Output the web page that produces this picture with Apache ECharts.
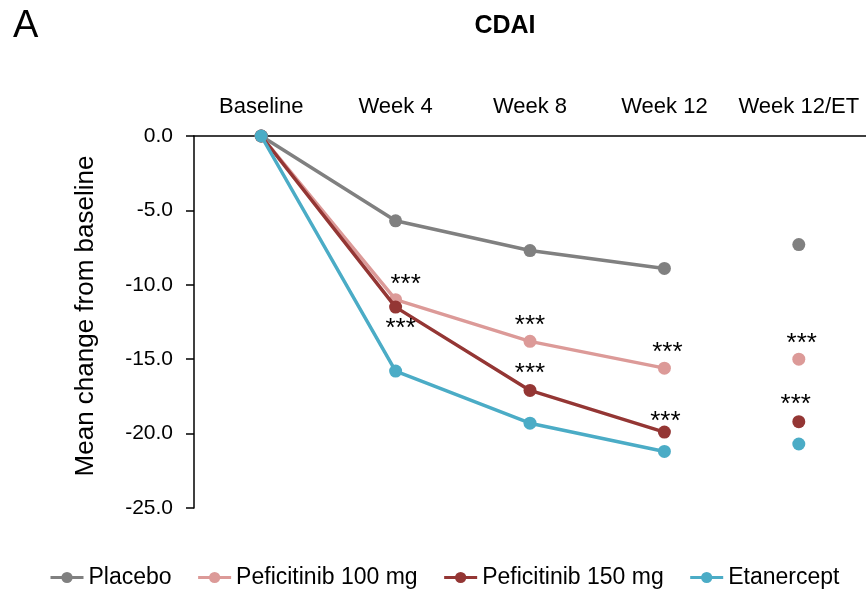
<!DOCTYPE html>
<html>
<head>
<meta charset="utf-8">
<script src="https://cdn.jsdelivr.net/npm/echarts@6/dist/echarts.min.js"></script>
<style>
html,body{margin:0;padding:0;background:#fff;}
#chart{width:866px;height:591px;}
</style>
</head>
<body>
<div id="chart"></div>
<script>
// ---- data ----
const categories = ['Baseline', 'Week 4', 'Week 8', 'Week 12', 'Week 12/ET'];
const seriesNames = ['Placebo', 'Peficitinib 100 mg', 'Peficitinib 150 mg', 'Etanercept'];
const placebo = [0, -5.7, -7.7, -8.9];
const pef100 = [0, -11.0, -13.8, -15.6];
const pef150 = [0, -11.5, -17.1, -19.9];
const etanercept = [0, -15.8, -19.3, -21.2];
const placeboET = -7.3;
const pef100ET = -15.0;
const pef150ET = -19.2;
const etanerceptET = -20.7;
// significance markers (***) per visit, last entry = Week 12/ET
const placeboSig = [false, false, false, false, false];
const pef100Sig = [false, true, true, true, true];
const pef150Sig = [false, true, true, true, true];
const etanerceptSig = [false, false, false, false, false];
const yMin = -25, yMax = 0, yStep = 5;

// ---- style / layout ----
const colors = ['#808080', '#dc9a98', '#943634', '#4bacc6'];
const FONT = 'Liberation Sans, Arial, sans-serif';
const SIG_SIZE = 26;
// label offsets for the *** markers [dx, dy] per series per visit
const sigOffsets = {
  1: [[0,0],[10,-15],[0,-16],[3,-15],[3,-15]],
  2: [[0,0],[5,22],[0,-17],[1,-10],[-3,-17]]
};

const lineData = [placebo, pef100, pef150, etanercept];
const etData = [placeboET, pef100ET, pef150ET, etanerceptET];
const sigData = [placeboSig, pef100Sig, pef150Sig, etanerceptSig];

function buildData(vals, sig, si, startIdx) {
  return vals.map((v, i) => {
    const idx = startIdx + i;
    const item = { value: v };
    if (sig[idx]) {
      const off = (sigOffsets[si] && sigOffsets[si][idx]) || [0, -18];
      item.label = { show: true, formatter: '***', position: 'inside', offset: off,
        color: '#000', fontSize: SIG_SIZE, fontFamily: FONT };
    }
    return item;
  });
}

const series = [];
lineData.forEach((vals, si) => {
  series.push({
    name: seriesNames[si],
    type: 'line',
    data: buildData(vals, sigData[si], si, 0),
    symbol: 'circle',
    symbolSize: 13,
    lineStyle: { width: 3.5, color: colors[si] },
    itemStyle: { color: colors[si] },
    z: 2 + si,
    animation: false
  });
});
etData.forEach((v, si) => {
  const arr = ['-', '-', '-', '-'].concat(buildData([v], sigData[si], si, 4));
  series.push({
    name: seriesNames[si] + ' (Week 12/ET)',
    type: 'scatter',
    data: arr,
    symbol: 'circle',
    symbolSize: 13,
    itemStyle: { color: colors[si], opacity: 1 },
    z: 2 + si,
    animation: false
  });
});

const chart = echarts.init(document.getElementById('chart'));
chart.setOption({
  backgroundColor: '#fff',
  animation: false,
  title: [
    { text: 'A', left: 8, top: 3, textStyle: { fontFamily: FONT, fontSize: 38, fontWeight: 'normal', color: '#000' } },
    { text: 'CDAI', left: 500, textAlign: 'center', top: 9, textStyle: { fontFamily: FONT, fontSize: 25, fontWeight: 'bold', color: '#000' } }
  ],
  grid: { left: 194, top: 136, right: -3, bottom: 83, containLabel: false },
  legend: {
    data: seriesNames,
    top: 561,
    left: 44,
    itemWidth: 33,
    itemHeight: 14,
    itemGap: 25,
    lineStyle: { width: 3 },
    textStyle: { fontFamily: FONT, fontSize: 23, color: '#000' }
  },
  xAxis: {
    type: 'category',
    position: 'top',
    data: categories,
    boundaryGap: true,
    axisLine: { show: true, lineStyle: { color: '#000', width: 1.5 } },
    axisTick: { show: false },
    axisLabel: { interval: 0, fontFamily: FONT, fontSize: 22, color: '#000', margin: 18 },
    splitLine: { show: false }
  },
  yAxis: {
    type: 'value',
    min: yMin,
    max: yMax,
    interval: yStep,
    name: 'Mean change from baseline',
    nameLocation: 'middle',
    nameGap: 95,
    nameTextStyle: { fontFamily: FONT, fontSize: 26, color: '#000', padding: [0, 0, 0, 12] },
    axisLine: { show: true, lineStyle: { color: '#000', width: 1.5 } },
    axisTick: { show: true, inside: false, length: 8, lineStyle: { color: '#000', width: 1.5 } },
    axisLabel: { fontFamily: FONT, fontSize: 21, color: '#000', margin: 21, formatter: v => v.toFixed(1) },
    splitLine: { show: false }
  },
  series: series
});
</script>
</body>
</html>
